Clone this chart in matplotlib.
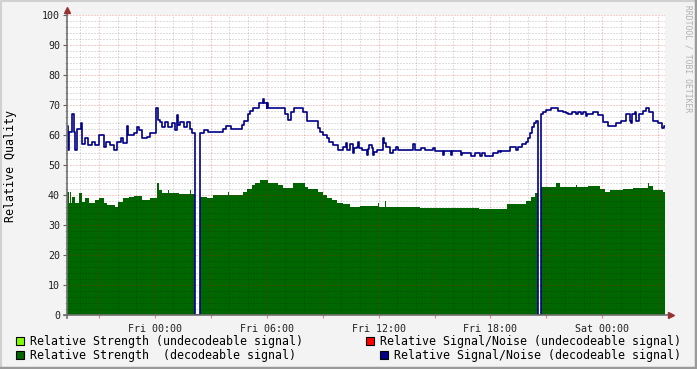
import numpy as np
import matplotlib.pyplot as plt
from matplotlib.lines import Line2D
from matplotlib.patches import Rectangle

# hours relative to Fri 00:00, step values (held until next time)
snr_t = [-4.71, -4.66, -4.61, -4.45, -4.34, -4.29, -4.18, -3.96, -3.88, -3.75,
         -3.59, -3.38, -3.21, -2.97, -2.75, -2.61, -2.39, -2.18, -2.04, -1.81,
         -1.68, -1.50, -1.42, -1.14, -0.96, -0.84, -0.70, -0.43, -0.25, 0.05,
         0.16, 0.28, 0.38, 0.55, 0.73, 0.91, 1.07, 1.18, 1.26, 1.36,
         1.54, 1.71, 1.89, 2.02, 2.14, 2.42, 2.62, 2.84, 2.93, 3.68,
         3.82, 4.09, 4.66, 4.78, 4.97, 5.11, 5.29, 5.56, 5.79, 5.84,
         6.00, 6.04, 6.09, 6.98, 7.16, 7.29, 7.47, 7.97, 8.14, 8.77,
         8.86, 9.04, 9.21, 9.36, 9.57, 9.80, 10.11, 10.25, 10.32, 10.46,
         10.64, 10.70, 10.82, 10.91, 10.96, 11.09, 11.36, 11.41, 11.48, 11.66,
         11.72, 11.77, 11.89, 12.21, 12.30, 12.39, 12.61, 12.79, 12.96, 13.02,
         13.82, 13.94, 14.30, 14.48, 14.93, 15.00, 15.47, 15.52, 15.91, 15.96,
         16.41, 16.45, 16.98, 17.16, 17.43, 17.52, 17.70, 18.14, 18.41, 18.50,
         18.59, 19.03, 19.39, 19.45, 19.71, 19.89, 20.02, 20.14, 20.23, 20.32,
         20.46, 20.57, 20.73, 20.82, 21.00, 21.27, 21.63, 21.89, 22.07, 22.16,
         22.39, 22.57, 22.70, 22.87, 22.97, 23.11, 23.18, 23.50, 23.77, 24.04,
         24.30, 24.75, 25.02, 25.29, 25.46, 25.55, 25.59, 25.73, 25.82, 25.97,
         26.18, 26.36, 26.50, 26.71, 26.98, 27.21, 27.29]
snr_v = [63, 55, 61, 67, 61, 55, 62, 64, 57, 59,
         56.7, 57.8, 56.7, 60, 56, 57.8, 56.7, 55, 57.8, 58.9,
         57.2, 63, 60, 60.6, 62.8, 61.7, 58.9, 59.4, 60.6, 69,
         65, 64.4, 62.8, 64.4, 62.8, 64, 61.7, 66.7, 63.5, 64.4,
         62.8, 64.4, 62, 60.8, 0, 60.6, 61.7, 61, 60.9, 61.9,
         63, 61.9, 63.3, 64.8, 67, 68, 68.9, 70.8, 71.9, 70.8,
         68.9, 70.8, 68.9, 67, 65, 67.8, 68.9, 67.8, 64.8, 62.2,
         61.1, 60, 58.9, 57.8, 56.7, 55, 56.1, 57.2, 55, 56.9,
         53.9, 55.6, 56.1, 57.8, 55.6, 55, 53.3, 55.2, 56.7, 55.6,
         53.3, 54.4, 55, 58.9, 57.2, 56.1, 54.1, 55, 55.9, 55,
         56.9, 55, 55.8, 55, 55.8, 54.7, 53.3, 54.7, 53.3, 54.7,
         53.3, 53.9, 53, 53.9, 53, 53.9, 53, 53.9, 54.8, 54.5,
         54.8, 55.9, 55, 55.9, 56.9, 57.8, 58.9, 60.6, 62.8, 63.9,
         64.8, 0, 67, 67.8, 68.3, 68.9, 68, 67.8, 67.4, 67,
         67.8, 67, 67.8, 67, 67.8, 66.3, 67, 67.8, 66.7, 64.4,
         63, 63.9, 64.8, 67, 64.8, 63.9, 67, 67.8, 64.8, 67,
         68, 68.9, 67.8, 64.8, 63.9, 62.2, 63]

str_t = [-4.71, -4.62, -4.55, -4.50, -4.45, -4.36, -4.32, -4.27, -4.09, -3.98,
         -3.94, -3.91, -3.73, -3.55, -3.20, -2.98, -2.75, -2.57, -2.13, -1.95,
         -1.68, -1.41, -1.14, -0.70, -0.25, 0.11, 0.20, 0.38, 0.70, 0.75,
         1.27, 1.32, 1.89, 1.94, 2.14, 2.42, 2.79, 3.14, 3.95, 4.00,
         4.75, 4.93, 5.20, 5.37, 5.64, 6.05, 6.63, 6.89, 7.43, 8.05,
         8.23, 8.77, 9.04, 9.21, 9.48, 9.75, 10.11, 10.46, 10.98, 11.95,
         12.00, 12.34, 12.39, 14.20, 16.34, 17.41, 18.89, 19.93, 20.20, 20.37,
         20.57, 20.73, 21.54, 21.71, 22.61, 22.66, 23.23, 23.86, 24.12, 24.39,
         25.11, 25.64, 26.45, 26.52, 26.71, 27.25]
str_v = [41.1, 37.2, 41, 37.2, 39.4, 42.8, 39.4, 37.2, 40.6, 41.7,
         40.6, 37.8, 38.9, 37.2, 38.3, 38.9, 37.2, 36.7, 36.1, 37.8,
         38.9, 39.4, 39.7, 38.3, 38.9, 43.9, 41.7, 40.6, 41.8, 40.6,
         41.8, 40.3, 41.8, 40.3, 0, 39.4, 38.9, 40, 41.1, 40,
         41.1, 42, 43.3, 43.9, 45, 44.1, 43.3, 42.2, 43.9, 42.8,
         42, 41.1, 40, 38.9, 38.3, 37.2, 36.9, 36.1, 36.5, 37.5,
         36.1, 38, 36.1, 35.8, 35.6, 35.2, 37, 38, 39.4, 40.6,
         0, 42.8, 43.9, 42.8, 43.3, 42.8, 43, 41.9, 41.1, 41.7,
         42, 42.2, 43.9, 43, 41.7, 41.1]

t_end = 27.36
x_left = -4.71
label_hours = [0, 6, 12, 18, 24]
label_text = ["Fri 00:00", "Fri 06:00", "Fri 12:00", "Fri 18:00", "Sat 00:00"]

legend_left = ["Relative Strength (undecodeable signal)",
               "Relative Strength  (decodeable signal)"]
legend_right = ["Relative Signal/Noise (undecodeable signal)",
                "Relative Signal/Noise (decodeable signal)"]

mono = "DejaVu Sans Mono"
W, H = 697, 369
fig = plt.figure(figsize=(W / 100, H / 100), dpi=100, facecolor="#f3f3f3")
ax = fig.add_axes([67 / W, 54 / H, 598 / W, 300 / H])
ax.set_facecolor("white")

st = np.array(str_t + [t_end])
sv = np.array(str_v + [str_v[-1]])
ax.fill_between(st, sv, 0, step="post", color="#006600", lw=0, zorder=2)

nt = np.array(snr_t + [t_end])
nv = np.array(snr_v + [snr_v[-1]])
ax.step(nt, nv, where="post", color="#000088", lw=1.2, zorder=4)

ax.set_xlim(x_left, t_end)
ax.set_ylim(0, 100)

# grid drawn by hand: minor gray dotted, major red dotted
gray = (0, 0, 0, 0.25)
red = (1, 0, 0, 0.4)
for h in range(-4, 28):
    c = red if h % 3 == 0 else gray
    ax.axvline(h, color=c, lw=0.72, ls=(0, (1, 2)), zorder=3)
for y in range(2, 101, 2):
    c = red if y % 10 == 0 else gray
    ax.axhline(y, color=c, lw=0.72, ls=(0, (1, 2)), zorder=3)

ax.set_xticks(np.arange(-3, 27, 3))
ax.set_yticks(np.arange(0, 101, 10))
ax.set_yticks(np.arange(0, 101, 2), minor=True)
ax.set_xticklabels([label_text[label_hours.index(h)] if h in label_hours else ""
                    for h in np.arange(-3, 27, 3)])
ax.tick_params(axis="x", which="major", length=2.5, color="#f08080", pad=4,
               labelsize=7.2, labelcolor="#202020")
ax.tick_params(axis="y", which="major", length=3, color="#606060", pad=2,
               labelsize=7.2, labelcolor="#202020")
ax.tick_params(axis="y", which="minor", length=1.5, color="#a0a0a0")
for lab in ax.get_xticklabels() + ax.get_yticklabels():
    lab.set_family(mono)

for s in ax.spines.values():
    s.set_visible(False)

# axes lines with arrows
tf = fig.transFigure
fig.add_artist(Line2D([67 / W, 67 / W], [(H - 318) / H, (H - 10) / H], color="#707070", lw=1.2, transform=tf))
fig.add_artist(Line2D([64 / W, 671 / W], [54 / H, 54 / H], color="#707070", lw=1.2, transform=tf))
fig.add_artist(Line2D([67 / W], [(H - 10) / H], marker="^", ms=4, color="#993333", transform=tf))
fig.add_artist(Line2D([671 / W], [54 / H], marker=">", ms=4, color="#993333", transform=tf))

fig.text(11 / W, 0.55, "Relative Quality", rotation=90, family=mono, fontsize=8.4,
         ha="center", va="center")

fig.text(688 / W, (H - 5) / H, "RRDTOOL / TOBI OETIKER", rotation=270,
         family=mono, fontsize=5.8, color="#b0b0b0", ha="center", va="top")

# legend
def box(x, y, c):
    fig.add_artist(Rectangle((x / W, (H - y - 8) / H), 8 / W, 8 / H, transform=tf,
                             facecolor=c, edgecolor="black", lw=0.8))

box(15.5, 337, "#7fff00")
box(15.5, 351, "#006600")
box(365.5, 337, "#ff0000")
box(379.5, 351, "#000088")
fig.text(30 / W, (H - 341) / H, legend_left[0], family=mono, fontsize=8.4, va="center")
fig.text(30 / W, (H - 355) / H, legend_left[1], family=mono, fontsize=8.4, va="center")
fig.text(681 / W, (H - 341) / H, legend_right[0], family=mono, fontsize=8.4, va="center", ha="right")
fig.text(681 / W, (H - 355) / H, legend_right[1], family=mono, fontsize=8.4, va="center", ha="right")

# frame
fig.add_artist(Line2D([0.5 / W, 0.5 / W, (W - 1) / W], [0, (H - 0.5) / H, (H - 0.5) / H],
                      color="#d0d0d0", lw=1.5, transform=tf))
fig.add_artist(Line2D([1 / W, (W - 1.5) / W, (W - 1.5) / W], [1.5 / H, 1.5 / H, (H - 1) / H],
                      color="#9a9a9a", lw=2.5, transform=tf))

fig.savefig("out.png", dpi=100, facecolor=fig.get_facecolor())
